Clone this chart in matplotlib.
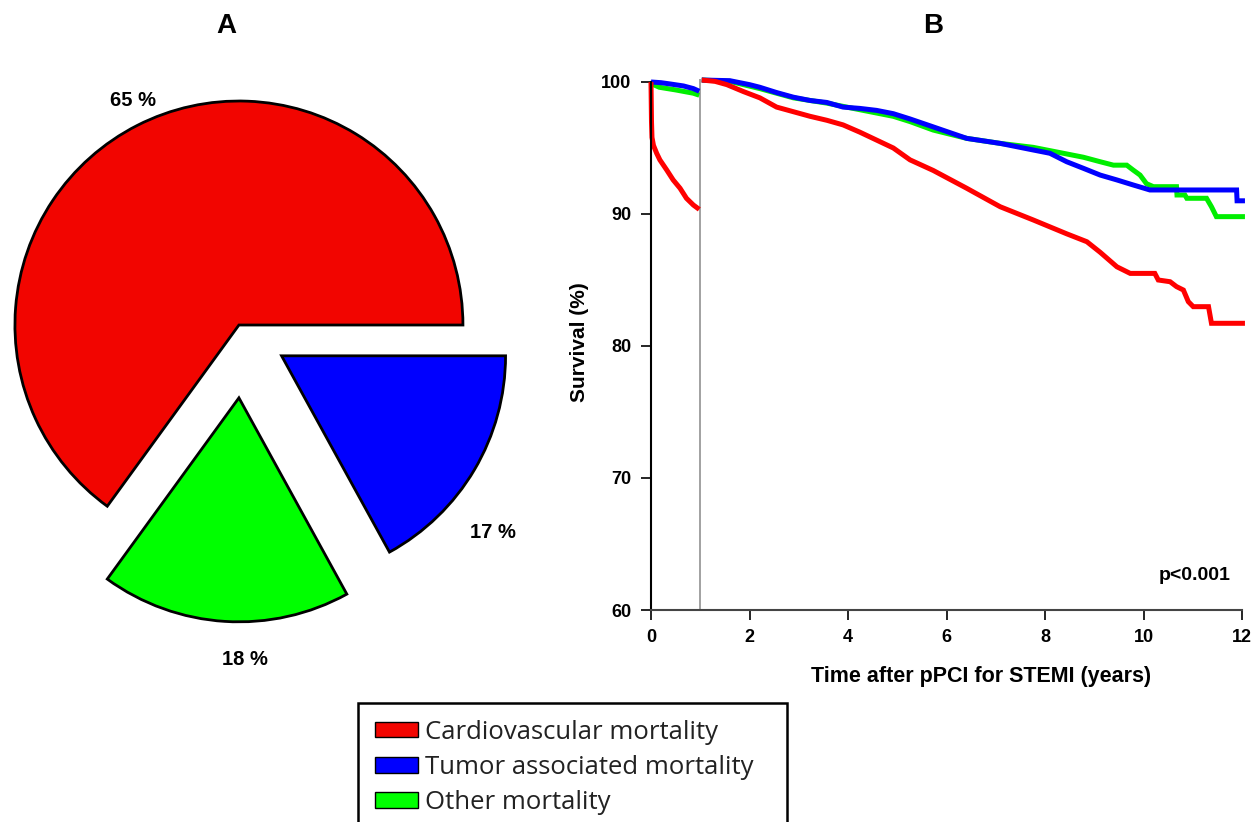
import matplotlib
matplotlib.use("Agg")
import matplotlib.pyplot as plt
import numpy as np
from matplotlib.patches import Patch

plt.rcParams["font.family"] = ["Liberation Sans", "DejaVu Sans"]

# pie (A): counterclockwise from 3 o'clock
pie_shares = [65, 18, 17]
pie_labels = ["65 %", "18 %", "17 %"]
pie_colors = ["#f20500", "#00ff00", "#0000ff"]
pie_explode = [0.04, 0.29, 0.2]
label_dist = [1.11, 1.17, 1.23]
label_turn = [-1.8, 4.9, -9.4]

# legend
causes = ["Cardiovascular mortality", "Tumor associated mortality", "Other mortality"]
cause_colors = ["#f20500", "#0000ff", "#00ff00"]

# survival curves (B), landmark at 1 year
landmark = 1

t_cv_early = [0, 0.01, 0.02, 0.05, 0.115, 0.18, 0.32, 0.45, 0.59, 0.72, 0.86, 0.98]
s_cv_early = [100, 97.0, 95.8, 95.2, 94.6, 94.1, 93.33, 92.58, 91.95, 91.19, 90.68, 90.35]
t_tu_early = [0, 0.2, 0.39, 0.66, 0.86, 0.98]
s_tu_early = [100, 99.95, 99.85, 99.7, 99.5, 99.3]
t_ot_early = [0, 0.05, 0.17, 0.5, 0.86, 0.98]
s_ot_early = [100, 99.8, 99.6, 99.4, 99.15, 99.0]

t_cv_late = [1.03, 1.3, 1.54, 1.88, 2.21, 2.55, 2.89, 3.23, 3.57, 3.9, 4.24, 4.58, 4.92, 5.26,
             5.73, 6.41, 7.09, 7.76, 8.44, 8.85, 9.12, 9.46, 9.73, 10.23, 10.3, 10.54, 10.67,
             10.81, 10.91, 11.01, 11.32, 11.38, 12.06]
s_cv_late = [100.15, 100.05, 99.8, 99.27, 98.8, 98.1, 97.75, 97.4, 97.1, 96.75, 96.2, 95.6, 95.0, 94.1,
             93.3, 91.95, 90.55, 89.55, 88.5, 87.9, 87.1, 86.0, 85.5, 85.5, 85.0, 84.87, 84.5,
             84.24, 83.36, 82.98, 82.98, 81.72, 81.72]
t_tu_late = [1.03, 1.6, 2.0, 2.21, 2.55, 2.89, 3.23, 3.57, 3.9, 4.24, 4.58, 4.92, 5.26, 5.73, 6.41,
             7.09, 7.76, 8.1, 8.44, 8.78, 9.12, 9.46, 9.79, 10.13, 11.89, 11.9, 12.06]
s_tu_late = [100.15, 100.1, 99.8, 99.6, 99.2, 98.85, 98.6, 98.45, 98.1, 98.0, 97.85, 97.6, 97.2, 96.6, 95.73,
             95.35, 94.85, 94.6, 93.96, 93.46, 92.95, 92.58, 92.2, 91.82, 91.82, 91.0, 91.0]
t_ot_late = [1.03, 1.6, 2.21, 2.89, 3.57, 4.24, 4.92, 5.26, 5.73, 6.41, 7.09, 7.76, 8.44, 8.78, 9.12,
             9.39, 9.66, 9.79, 9.93, 10.06, 10.2, 10.67, 10.68, 10.84, 10.88, 11.28, 11.38, 11.48, 12.06]
s_ot_late = [100.15, 100.05, 99.5, 98.8, 98.4, 97.9, 97.4, 97.0, 96.36, 95.73, 95.35, 95.05, 94.55, 94.3, 93.96,
             93.7, 93.7, 93.33, 92.95, 92.3, 92.07, 92.07, 91.44, 91.44, 91.19, 91.19, 90.55, 89.8, 89.8]

fig = plt.figure(figsize=(12.55, 8.22), dpi=100)

# ---- A: pie
ax_pie = fig.add_axes([0, 122 / 822, 560 / 1255, 660 / 822])
wedges, _ = ax_pie.pie(pie_shares, colors=pie_colors, explode=pie_explode,
                       startangle=0, counterclock=True,
                       wedgeprops=dict(edgecolor="black", linewidth=2))
for w, lab, d, turn in zip(wedges, pie_labels, label_dist, label_turn):
    ang = np.deg2rad((w.theta1 + w.theta2) / 2 + turn)
    cx, cy = w.center
    ax_pie.text(cx + d * w.r * np.cos(ang), cy + d * w.r * np.sin(ang), lab,
                ha="center", va="center", fontsize=14.5, fontweight="bold")
ax_pie.set_aspect("auto")
ax_pie.set_xlim(-243 / 224, 317 / 224)
ax_pie.set_ylim(-367 / 224, 293 / 224)

# ---- B: survival
ax = fig.add_axes([651 / 1255, 212 / 822, 12.15 * 49.25 / 1255, 40.6 * 13.2 / 822])
lw = 3.6
ax.vlines(landmark, 60, 100.2, color="#888888", lw=1.1, zorder=1)
for tt, ss, c in [(t_ot_early, s_ot_early, "#00ee00"), (t_tu_early, s_tu_early, "#0000ff"),
                  (t_cv_early, s_cv_early, "#ff0000"),
                  (t_ot_late, s_ot_late, "#00ee00"), (t_tu_late, s_tu_late, "#0000ff"),
                  (t_cv_late, s_cv_late, "#ff0000")]:
    ax.plot(tt, ss, color=c, lw=lw, solid_capstyle="butt", solid_joinstyle="miter", clip_on=False)

ax.set_xlim(0, 12.15)
ax.set_ylim(60, 100.6)
ax.set_xticks(range(0, 13, 2))
ax.set_yticks(range(60, 101, 10))
for s in ["top", "right"]:
    ax.spines[s].set_visible(False)
ax.spines["left"].set_bounds(60, 100)
ax.spines["bottom"].set_bounds(0, 12)
ax.spines["left"].set_linewidth(1.5)
ax.spines["bottom"].set_linewidth(1.5)
ax.spines["bottom"].set_color("#444444")
ax.tick_params(direction="out", length=7, width=1.2, labelsize=13, pad=7)
for lab in ax.get_xticklabels() + ax.get_yticklabels():
    lab.set_fontweight("bold")
ax.set_xlabel("Time after pPCI for STEMI (years)", fontsize=15.5, fontweight="bold", labelpad=12)
ax.xaxis.set_label_coords(0.552, -0.105)
ax.set_ylabel("Survival (%)", fontsize=15, fontweight="bold", labelpad=9)
ax.text(0.968, 0.065, "p<0.001", transform=ax.transAxes, ha="right", va="center",
        fontsize=14, fontweight="bold")

fig.text(226 / 1255, 1 - 26 / 822, "A", ha="center", va="center", fontsize=20, fontweight="bold")
fig.text(933 / 1255, 1 - 26 / 822, "B", ha="center", va="center", fontsize=20, fontweight="bold")

handles = [Patch(facecolor=c, edgecolor="black", linewidth=1) for c in cause_colors]
leg_h = 130 / 822
leg = fig.legend(handles, causes, loc="upper left",
                 bbox_to_anchor=(358 / 1255, 1 - 703 / 822 - leg_h, 429 / 1255, leg_h), mode="expand",
                 frameon=True, fancybox=False, edgecolor="black", framealpha=1,
                 prop={"family": "Open Sans", "size": 18.5}, handlelength=1.67, handleheight=0.55,
                 handletextpad=0.27, labelspacing=0.4, borderpad=0.65, borderaxespad=0)
leg.get_frame().set_linewidth(1.8)
for t in leg.get_texts():
    t.set_color("#222222")

fig.savefig("out.png", dpi=100)
